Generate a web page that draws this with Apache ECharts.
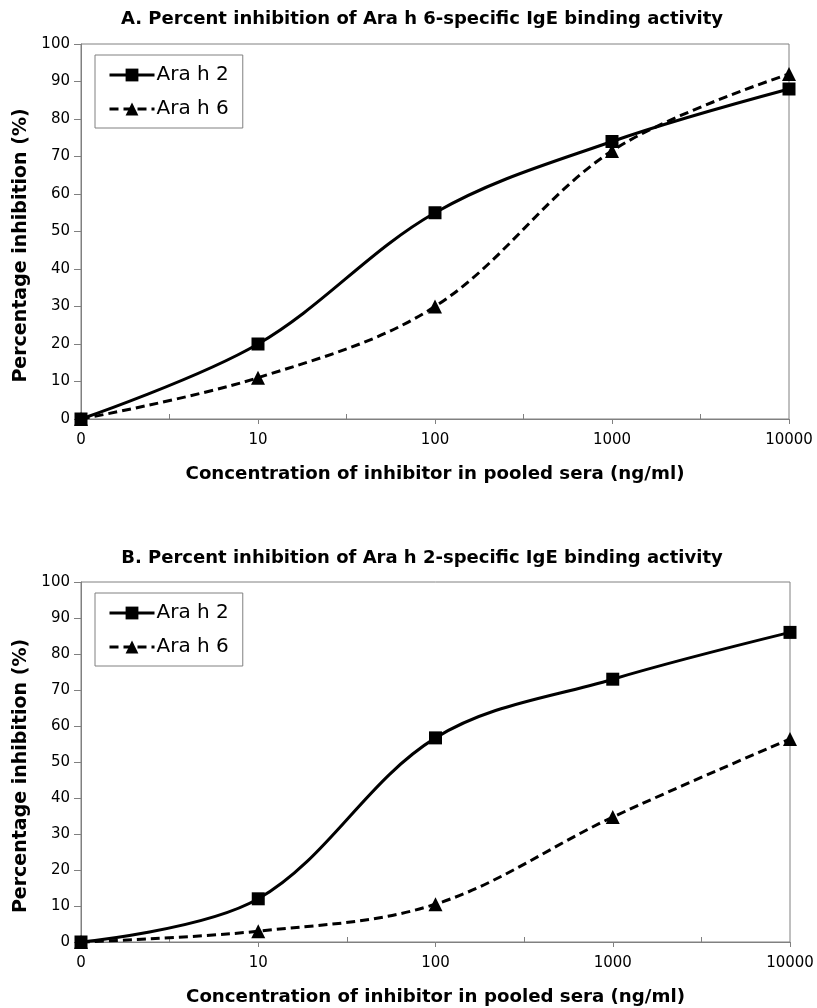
<!DOCTYPE html>
<html>
<head>
<meta charset="utf-8">
<script src="https://cdn.jsdelivr.net/npm/echarts@6/dist/echarts.min.js"></script>
<style>
  html, body { margin: 0; padding: 0; background: #fff; }
  #chart { width: 817px; height: 1008px; }
</style>
</head>
<body>
<div id="chart"></div>
<script>
// Inhibitor concentrations (ng/ml), evenly spaced on the axis
const concentrationLabels = ['0', '10', '100', '1000', '10000'];
const seriesNames = ['Ara h 2', 'Ara h 6'];

// Panel A: inhibition of Ara h 6-specific IgE binding (%)
const panelA_arah2 = [0, 20, 55, 74, 88];
const panelA_arah6 = [0, 11, 30, 71.5, 92];

// Panel B: inhibition of Ara h 2-specific IgE binding (%)
const panelB_arah2 = [0, 12, 56.7, 73, 86];
const panelB_arah6 = [0, 3, 10.5, 34.7, 56.4];

const panelTitles = [
  'A. Percent inhibition of Ara h 6-specific IgE binding activity',
  'B. Percent inhibition of Ara h 2-specific IgE binding activity'
];
const xAxisTitle = 'Concentration of inhibitor in pooled sera (ng/ml)';
const yAxisTitle = 'Percentage inhibition (%)';

const FONT = '"DejaVu Sans", Verdana, sans-serif';
const GRAY = '#808080';

const grids = [
  { left: 81, top: 44, width: 708, height: 375 },
  { left: 81, top: 582, width: 709, height: 360 }
];

function toPairs(values) {
  return values.map((v, i) => [i, v]);
}

function xAxisFor(gridIndex) {
  return {
    type: 'value',
    gridIndex: gridIndex,
    min: 0, max: concentrationLabels.length - 1, interval: 1,
    name: xAxisTitle,
    nameLocation: 'middle',
    nameGap: 46,
    nameTextStyle: { fontFamily: FONT, fontSize: 18.2, fontWeight: 'bold', color: '#000' },
    axisLine: { show: true, lineStyle: { color: GRAY, width: 1 } },
    axisTick: { show: true, length: 5, lineStyle: { color: GRAY } },
    minorTick: { show: true, splitNumber: 2, length: -5, lineStyle: { color: GRAY, width: 1 } },
    splitLine: { show: false },
    axisLabel: {
      margin: 14,
      fontFamily: FONT, fontSize: 15, color: '#000',
      formatter: v => concentrationLabels[Math.round(v)]
    }
  };
}

function yAxisFor(gridIndex) {
  return {
    type: 'value',
    gridIndex: gridIndex,
    min: 0, max: 100, interval: 10,
    name: yAxisTitle,
    nameLocation: 'middle',
    nameGap: 44,
    // extra end padding moves the rotated title slightly toward the bottom
    nameTextStyle: { fontFamily: FONT, fontSize: 19, fontWeight: 'bold', color: '#000', padding: [0, 28, 0, 0] },
    axisLine: { show: true, lineStyle: { color: GRAY, width: 1 } },
    axisTick: { show: true, length: 7, lineStyle: { color: GRAY } },
    splitLine: { show: false },
    axisLabel: { margin: 11, fontFamily: FONT, fontSize: 15, color: '#000' }
  };
}

function lineSeries(name, values, idx, dashed) {
  return {
    name: name,
    type: 'line',
    xAxisIndex: idx, yAxisIndex: idx,
    data: toPairs(values),
    smooth: 0.35,
    clip: false,
    symbol: dashed ? 'triangle' : 'rect',
    symbolSize: dashed ? 14 : 13,
    showAllSymbol: true,
    itemStyle: { color: '#000' },
    lineStyle: { color: '#000', width: 3, type: dashed ? [9, 5] : 'solid' },
    emphasis: { disabled: true }
  };
}

function legendFor(top) {
  return {
    data: seriesNames,
    orient: 'vertical',
    left: 95, top: top,
    padding: [10, 14, 9, 13],
    itemGap: 14,
    itemWidth: 45, itemHeight: 16,
    borderColor: GRAY, borderWidth: 1,
    lineStyle: { width: 3 },
    textStyle: { fontFamily: FONT, fontSize: 20, lineHeight: 20, color: '#000', padding: [0, 0, 0, -3] },
    selectedMode: false
  };
}

const chart = echarts.init(document.getElementById('chart'), null, { renderer: 'canvas' });

chart.setOption({
  animation: false,
  backgroundColor: '#fff',
  title: [
    { text: panelTitles[0], left: 422, top: 10, textAlign: 'center', padding: 0,
      textStyle: { fontFamily: FONT, fontSize: 18, fontWeight: 'bold', color: '#000' } },
    { text: panelTitles[1], left: 422, top: 549, textAlign: 'center', padding: 0,
      textStyle: { fontFamily: FONT, fontSize: 18, fontWeight: 'bold', color: '#000' } }
  ],
  grid: grids.map(g => Object.assign({ show: true, borderColor: GRAY, borderWidth: 1, backgroundColor: 'transparent' }, g)),
  xAxis: [xAxisFor(0), xAxisFor(1)],
  yAxis: [yAxisFor(0), yAxisFor(1)],
  legend: [legendFor(55), legendFor(593)],
  series: [
    lineSeries(seriesNames[0], panelA_arah2, 0, false),
    lineSeries(seriesNames[1], panelA_arah6, 0, true),
    lineSeries(seriesNames[0], panelB_arah2, 1, false),
    lineSeries(seriesNames[1], panelB_arah6, 1, true)
  ]
});
</script>
</body>
</html>
